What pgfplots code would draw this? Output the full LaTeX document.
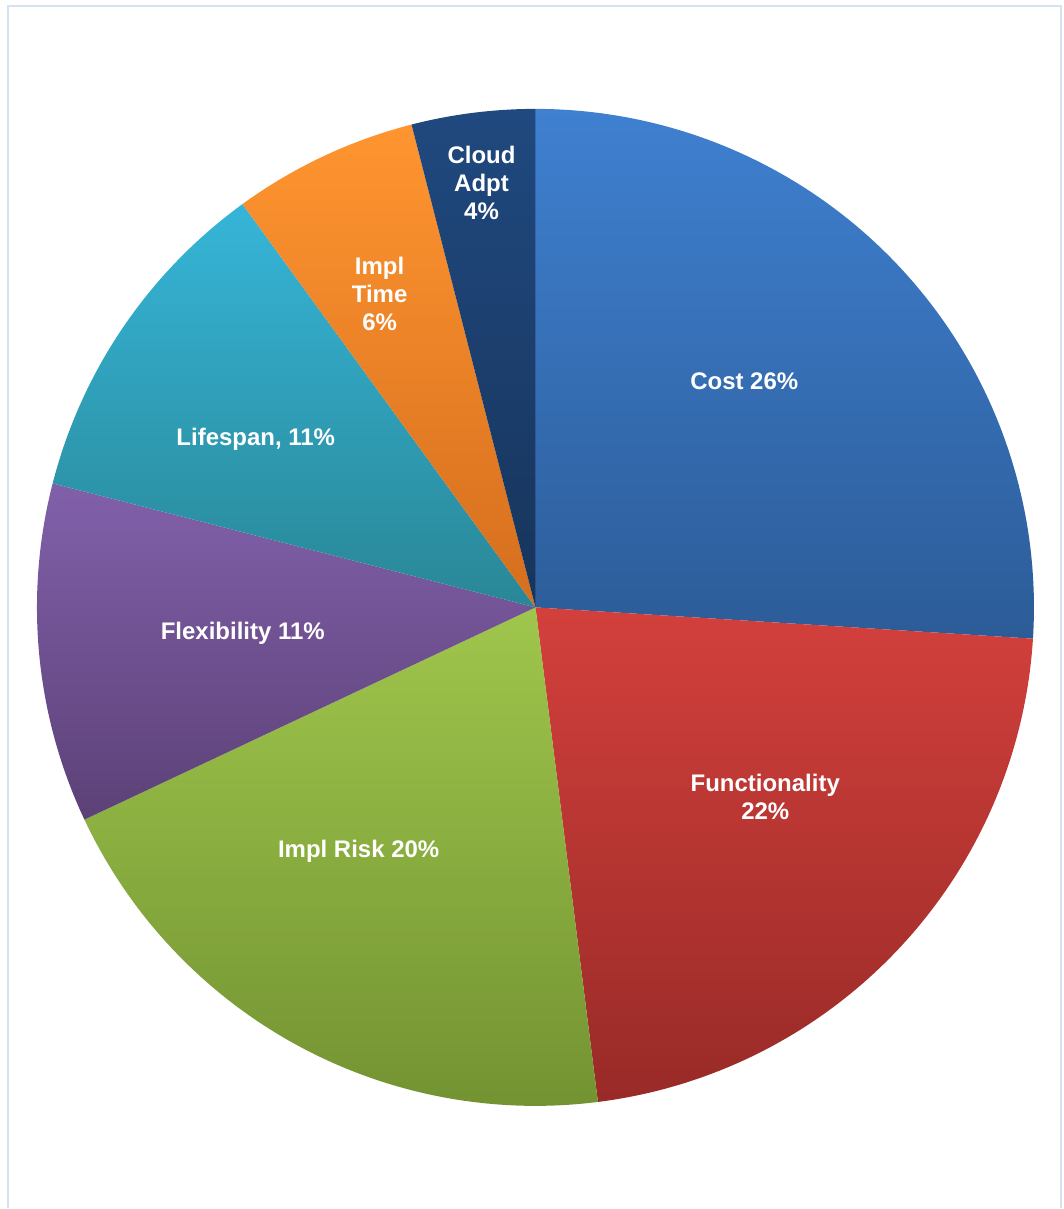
\documentclass[border=0pt]{standalone}
\usepackage{pgfplots}
\pgfplotsset{compat=1.18}
\usepackage{fontspec}
\setmainfont{Liberation Sans}
\definecolor{costT}{HTML}{3F80D0}\definecolor{costB}{HTML}{2C5C98}
\definecolor{funcT}{HTML}{D3403C}\definecolor{funcB}{HTML}{982A27}
\definecolor{riskT}{HTML}{9FC64C}\definecolor{riskB}{HTML}{739332}
\definecolor{flexT}{HTML}{8160AA}\definecolor{flexB}{HTML}{5C4177}
\definecolor{lifeT}{HTML}{36B5D8}\definecolor{lifeB}{HTML}{298796}
\definecolor{timeT}{HTML}{FF9530}\definecolor{timeB}{HTML}{D56E1E}
\definecolor{cloudT}{HTML}{20497F}\definecolor{cloudB}{HTML}{17345B}
\definecolor{frame}{HTML}{D6E2F2}
\def\startang{90}
\newcommand\slice[3]{%
  \pgfmathsetmacro\endang{\startang-#1*3.6}%
  \edef\tmp{\noexpand\addplot[domain=\endang:\startang, samples=90, draw=none, top color=#2, bottom color=#3]
    ({536+499*cos(x)},{601+499*sin(x)}) -- (536,601) -- cycle;}%
  \tmp
  \global\let\startang\endang}
\begin{document}
\begin{tikzpicture}
\begin{axis}[x=0.5pt, y=0.5pt, xmin=0, xmax=1065, ymin=0, ymax=1209,
  hide axis, clip=false, scale only axis]
\path (0,0) rectangle (1065,1209);
\draw[frame, line width=1.2pt] (8,0) -- (8,1203) -- (1062,1203) -- (1062,0);
% values in percent: Cost, Functionality, Impl Risk, Flexibility, Lifespan, Impl Time, Cloud Adpt
\slice{26}{costT}{costB}
\slice{22}{funcT}{funcB}
\slice{20}{riskT}{riskB}
\slice{11}{flexT}{flexB}
\slice{11}{lifeT}{lifeB}
\slice{6}{timeT}{timeB}
\slice{4}{cloudT}{cloudB}
\begin{scope}[every node/.style={text=white, font=\fontsize{12}{14}\selectfont\bfseries, align=center}]
\node at (745,827) {Cost 26\%};
\node at (766,411) {Functionality\\22\%};
\node at (359,357) {Impl Risk 20\%};
\node at (243,575) {Flexibility 11\%};
\node at (256,769) {Lifespan, 11\%};
\node at (380,915) {Impl\\Time\\6\%};
\node at (482,1026) {Cloud\\Adpt\\4\%};
\end{scope}
\end{axis}
\end{tikzpicture}
\end{document}
